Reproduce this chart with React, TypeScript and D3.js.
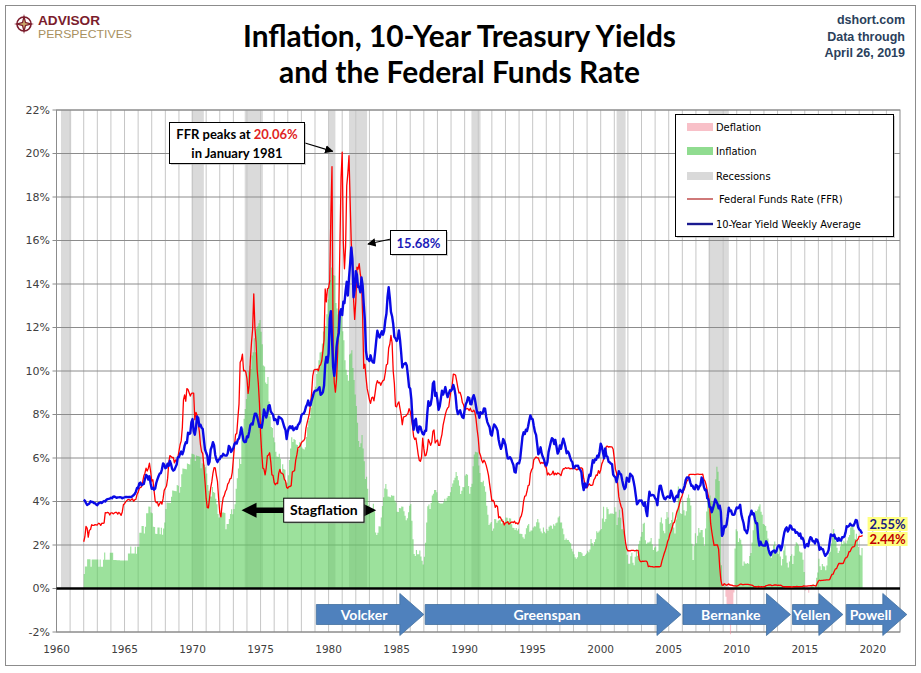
import React from 'react';
import * as d3 from 'd3';

const START_YEAR = 1962;

// Effective Federal Funds Rate, monthly from Jan 1962 (%)
const ffr: number[] = [
  2.15, 2.37, 2.85, 2.78, 2.36, 2.68, 2.71, 2.93, 2.90, 2.90, 2.94, 2.93,
  2.92, 3.00, 2.98, 2.90, 3.00, 2.99, 3.02, 3.49, 3.48, 3.50, 3.48, 3.38,
  3.48, 3.48, 3.43, 3.47, 3.50, 3.50, 3.42, 3.50, 3.45, 3.36, 3.52, 3.85,
  3.90, 3.98, 4.04, 4.09, 4.10, 4.04, 4.09, 4.12, 4.01, 4.08, 4.10, 4.32,
  4.42, 4.60, 4.65, 4.67, 4.90, 5.17, 5.30, 5.53, 5.40, 5.53, 5.76, 5.40,
  4.94, 5.00, 4.53, 4.05, 3.94, 3.98, 3.79, 3.90, 3.99, 3.88, 4.13, 4.51,
  4.61, 4.71, 5.05, 5.76, 6.11, 6.07, 6.02, 6.03, 5.78, 5.91, 5.82, 6.02,
  6.30, 6.61, 6.79, 7.41, 8.67, 8.90, 8.61, 9.19, 9.15, 9.00, 8.85, 8.97,
  8.98, 8.98, 7.76, 8.10, 7.95, 7.61, 7.21, 6.61, 6.29, 6.20, 5.60, 4.90,
  4.14, 3.72, 3.71, 4.16, 4.63, 4.91, 5.31, 5.56, 5.55, 5.20, 4.91, 4.14,
  3.50, 3.29, 3.83, 4.17, 4.27, 4.46, 4.55, 4.80, 4.87, 5.04, 5.06, 5.33,
  5.94, 6.58, 7.09, 7.12, 7.84, 8.49, 10.40, 10.50, 10.78, 10.01, 10.03, 9.95,
  9.65, 8.97, 9.35, 10.51, 11.31, 11.93, 13.55, 12.01, 11.34, 10.06, 9.45, 8.53,
  7.13, 6.24, 5.54, 5.49, 5.22, 5.55, 6.10, 6.14, 6.24, 5.82, 5.22, 5.20,
  4.87, 4.77, 4.84, 4.82, 5.29, 5.48, 5.31, 5.29, 5.25, 5.02, 4.95, 4.65,
  4.61, 4.68, 4.69, 4.73, 5.35, 5.39, 5.42, 5.90, 6.14, 6.47, 6.51, 6.56,
  6.70, 6.78, 6.79, 6.89, 7.36, 7.60, 7.81, 8.04, 8.45, 8.96, 9.76, 10.03,
  10.07, 10.06, 10.09, 10.01, 10.24, 10.29, 10.47, 10.94, 11.43, 13.77, 13.18, 13.78,
  13.82, 14.13, 17.19, 19.40, 10.98, 9.47, 9.03, 9.61, 10.87, 12.81, 15.85, 18.90,
  20.06, 15.93, 14.70, 15.72, 18.52, 19.10, 19.90, 17.82, 15.87, 15.08, 13.31, 12.37,
  13.22, 14.78, 14.68, 14.94, 14.45, 14.15, 12.59, 10.12, 10.31, 9.71, 9.20, 8.95,
  8.68, 8.51, 8.77, 8.80, 8.63, 8.98, 9.37, 9.56, 9.45, 9.48, 9.34, 9.47,
  9.56, 9.59, 9.91, 10.29, 10.32, 11.06, 11.23, 11.64, 11.30, 9.99, 9.43, 8.38,
  8.35, 8.50, 8.58, 8.27, 7.97, 7.53, 7.88, 7.90, 7.92, 7.99, 8.05, 8.27,
  8.14, 7.86, 7.48, 6.99, 6.85, 6.92, 6.56, 6.17, 5.89, 5.85, 6.04, 6.91,
  6.43, 6.10, 6.13, 6.37, 6.85, 6.73, 6.58, 6.73, 7.22, 7.29, 6.69, 6.77,
  6.83, 6.58, 6.58, 6.87, 7.09, 7.51, 7.75, 8.01, 8.19, 8.30, 8.35, 8.76,
  9.12, 9.36, 9.85, 9.84, 9.81, 9.53, 9.24, 8.99, 9.02, 8.84, 8.55, 8.45,
  8.23, 8.24, 8.28, 8.26, 8.18, 8.29, 8.15, 8.13, 8.20, 8.11, 7.81, 7.31,
  6.91, 6.25, 6.12, 5.91, 5.78, 5.90, 5.82, 5.66, 5.45, 5.21, 4.81, 4.43,
  4.03, 4.06, 3.98, 3.73, 3.82, 3.76, 3.25, 3.30, 3.22, 3.10, 3.09, 2.92,
  3.02, 3.03, 3.07, 2.96, 3.00, 3.04, 3.06, 3.03, 3.09, 2.99, 3.02, 2.96,
  3.05, 3.25, 3.34, 3.56, 4.01, 4.25, 4.26, 4.47, 4.73, 4.76, 5.29, 5.45,
  5.53, 5.92, 5.98, 6.05, 6.01, 6.00, 5.85, 5.74, 5.80, 5.76, 5.80, 5.60,
  5.56, 5.22, 5.31, 5.22, 5.24, 5.27, 5.40, 5.22, 5.30, 5.24, 5.31, 5.29,
  5.25, 5.19, 5.39, 5.51, 5.50, 5.56, 5.52, 5.54, 5.54, 5.50, 5.52, 5.50,
  5.56, 5.51, 5.49, 5.45, 5.49, 5.56, 5.54, 5.55, 5.51, 5.07, 4.83, 4.68,
  4.63, 4.76, 4.81, 4.74, 4.74, 4.76, 4.99, 5.07, 5.22, 5.20, 5.42, 5.30,
  5.45, 5.73, 5.85, 6.02, 6.27, 6.53, 6.54, 6.50, 6.52, 6.51, 6.51, 6.40,
  5.98, 5.49, 5.31, 4.80, 4.21, 3.97, 3.77, 3.65, 3.07, 2.49, 2.09, 1.82,
  1.73, 1.74, 1.73, 1.75, 1.75, 1.75, 1.73, 1.74, 1.75, 1.75, 1.34, 1.24,
  1.24, 1.26, 1.25, 1.26, 1.26, 1.22, 1.01, 1.03, 1.01, 1.01, 1.00, 0.98,
  1.00, 1.01, 1.00, 1.00, 1.00, 1.03, 1.26, 1.43, 1.61, 1.76, 1.93, 2.16,
  2.28, 2.50, 2.63, 2.79, 3.00, 3.04, 3.26, 3.50, 3.62, 3.78, 4.00, 4.16,
  4.29, 4.49, 4.59, 4.79, 4.94, 4.99, 5.24, 5.25, 5.25, 5.25, 5.25, 5.24,
  5.25, 5.26, 5.26, 5.25, 5.25, 5.25, 5.26, 5.02, 4.94, 4.76, 4.49, 4.24,
  3.94, 2.98, 2.61, 2.28, 1.98, 2.00, 2.01, 2.00, 1.81, 0.97, 0.39, 0.16,
  0.15, 0.22, 0.18, 0.15, 0.18, 0.21, 0.16, 0.16, 0.15, 0.12, 0.12, 0.12,
  0.11, 0.13, 0.16, 0.20, 0.20, 0.18, 0.18, 0.19, 0.19, 0.19, 0.19, 0.18,
  0.17, 0.16, 0.14, 0.10, 0.09, 0.09, 0.07, 0.10, 0.08, 0.07, 0.08, 0.07,
  0.08, 0.10, 0.13, 0.14, 0.16, 0.16, 0.16, 0.13, 0.14, 0.16, 0.16, 0.16,
  0.14, 0.15, 0.14, 0.15, 0.11, 0.09, 0.09, 0.08, 0.08, 0.09, 0.08, 0.09,
  0.07, 0.07, 0.08, 0.09, 0.09, 0.10, 0.09, 0.09, 0.09, 0.09, 0.09, 0.12,
  0.11, 0.11, 0.11, 0.12, 0.12, 0.13, 0.13, 0.14, 0.14, 0.12, 0.12, 0.24,
  0.34, 0.38, 0.36, 0.37, 0.37, 0.38, 0.39, 0.40, 0.40, 0.40, 0.41, 0.54,
  0.65, 0.66, 0.79, 0.90, 0.91, 1.04, 1.15, 1.16, 1.15, 1.15, 1.16, 1.30,
  1.41, 1.42, 1.51, 1.69, 1.70, 1.82, 1.91, 1.91, 1.95, 2.19, 2.20, 2.27,
  2.40, 2.40, 2.41, 2.44,
];

// 10-Year Treasury yield, monthly from Jan 1962 (%)
const tenYear: number[] = [
  4.08, 4.04, 3.93, 3.84, 3.87, 3.91, 4.01, 3.98, 3.98, 3.93, 3.92, 3.86,
  3.83, 3.92, 3.93, 3.97, 3.93, 3.99, 4.02, 4.00, 4.08, 4.11, 4.12, 4.13,
  4.17, 4.15, 4.22, 4.23, 4.20, 4.17, 4.19, 4.19, 4.20, 4.19, 4.15, 4.18,
  4.19, 4.21, 4.21, 4.20, 4.21, 4.21, 4.20, 4.25, 4.29, 4.35, 4.45, 4.62,
  4.61, 4.83, 4.87, 4.75, 4.78, 4.81, 5.02, 5.22, 5.18, 5.01, 5.16, 4.84,
  4.58, 4.63, 4.54, 4.59, 4.85, 5.02, 5.16, 5.28, 5.30, 5.48, 5.75, 5.70,
  5.53, 5.56, 5.74, 5.64, 5.87, 5.72, 5.50, 5.42, 5.46, 5.58, 5.70, 6.03,
  6.04, 6.19, 6.30, 6.17, 6.32, 6.57, 6.72, 6.69, 7.16, 7.10, 7.14, 7.65,
  7.79, 7.24, 7.07, 7.39, 7.91, 7.84, 7.46, 7.53, 7.39, 7.33, 6.84, 6.39,
  6.24, 6.11, 5.70, 5.83, 6.39, 6.52, 6.73, 6.58, 6.14, 5.93, 5.81, 5.93,
  5.95, 6.08, 6.07, 6.19, 6.13, 6.11, 6.11, 6.21, 6.55, 6.48, 6.28, 6.36,
  6.46, 6.64, 6.71, 6.67, 6.85, 6.90, 7.13, 7.40, 7.09, 6.79, 6.73, 6.74,
  6.99, 6.96, 7.21, 7.51, 7.58, 7.54, 7.81, 8.04, 8.04, 7.90, 7.68, 7.43,
  7.50, 7.39, 7.73, 8.23, 8.06, 7.86, 8.06, 8.40, 8.43, 8.14, 8.05, 8.00,
  7.74, 7.79, 7.73, 7.56, 7.90, 7.86, 7.83, 7.77, 7.59, 7.41, 7.29, 6.87,
  7.21, 7.39, 7.46, 7.37, 7.46, 7.28, 7.33, 7.40, 7.34, 7.52, 7.58, 7.69,
  7.96, 8.03, 8.04, 8.15, 8.35, 8.46, 8.64, 8.41, 8.42, 8.64, 8.81, 9.01,
  9.10, 9.10, 9.12, 9.18, 9.25, 8.91, 8.95, 9.03, 9.33, 10.30, 10.65, 10.39,
  10.80, 12.41, 12.75, 11.47, 10.18, 9.78, 10.25, 11.10, 11.51, 11.75, 12.68, 12.84,
  12.57, 13.19, 13.12, 13.68, 14.10, 13.47, 14.28, 14.94, 15.68, 15.15, 13.39, 13.72,
  14.59, 14.43, 13.86, 13.87, 13.62, 14.30, 13.95, 13.06, 12.34, 10.91, 10.55, 10.54,
  10.46, 10.72, 10.51, 10.40, 10.38, 10.85, 11.38, 11.85, 11.65, 11.54, 11.69, 11.83,
  11.67, 11.84, 12.32, 12.63, 13.41, 13.85, 13.36, 12.72, 12.52, 12.16, 11.57, 11.50,
  11.38, 11.51, 11.86, 11.43, 10.85, 10.16, 10.31, 10.33, 10.37, 10.24, 9.78, 9.26,
  9.19, 8.70, 7.78, 7.30, 7.71, 7.80, 7.30, 7.17, 7.45, 7.43, 7.25, 7.11,
  7.08, 7.25, 7.25, 8.02, 8.61, 8.40, 8.45, 8.76, 9.42, 9.52, 8.86, 8.99,
  8.67, 8.21, 8.37, 8.72, 9.09, 8.92, 9.06, 9.26, 8.98, 8.80, 8.96, 9.11,
  9.09, 9.17, 9.36, 9.18, 8.86, 8.28, 8.02, 8.11, 8.19, 8.01, 7.87, 7.84,
  8.21, 8.47, 8.59, 8.79, 8.76, 8.48, 8.47, 8.75, 8.89, 8.72, 8.39, 8.08,
  8.09, 7.85, 8.11, 8.04, 8.07, 8.28, 8.27, 7.90, 7.65, 7.53, 7.42, 7.09,
  7.03, 7.34, 7.54, 7.48, 7.39, 7.26, 6.84, 6.59, 6.42, 6.59, 6.87, 6.77,
  6.60, 6.26, 5.98, 5.97, 6.04, 5.96, 5.81, 5.68, 5.36, 5.33, 5.72, 5.77,
  5.75, 5.97, 6.48, 6.97, 7.18, 7.10, 7.30, 7.24, 7.46, 7.74, 7.96, 7.81,
  7.78, 7.47, 7.20, 7.06, 6.63, 6.17, 6.28, 6.49, 6.20, 6.04, 5.93, 5.71,
  5.65, 5.81, 6.27, 6.51, 6.74, 6.91, 6.87, 6.64, 6.83, 6.53, 6.20, 6.30,
  6.58, 6.42, 6.69, 6.89, 6.71, 6.49, 6.22, 6.30, 6.21, 6.03, 5.88, 5.81,
  5.54, 5.57, 5.65, 5.64, 5.65, 5.50, 5.46, 5.34, 4.81, 4.53, 4.83, 4.65,
  4.72, 5.00, 5.23, 5.18, 5.54, 5.90, 5.79, 5.94, 5.92, 6.11, 6.03, 6.28,
  6.66, 6.52, 6.26, 5.99, 6.44, 6.10, 6.05, 5.83, 5.80, 5.74, 5.72, 5.24,
  5.16, 5.10, 4.89, 5.14, 5.39, 5.28, 5.24, 4.97, 4.73, 4.57, 4.65, 5.09,
  5.04, 4.91, 5.28, 5.21, 5.16, 4.93, 4.65, 4.26, 3.87, 3.94, 4.05, 4.03,
  4.05, 3.90, 3.81, 3.96, 3.57, 3.33, 3.98, 4.45, 4.27, 4.29, 4.30, 4.27,
  4.15, 4.08, 3.83, 4.35, 4.72, 4.73, 4.50, 4.28, 4.13, 4.10, 4.19, 4.23,
  4.22, 4.17, 4.50, 4.34, 4.14, 4.00, 4.18, 4.26, 4.20, 4.46, 4.54, 4.47,
  4.42, 4.57, 4.72, 4.99, 5.11, 5.11, 5.09, 4.88, 4.72, 4.73, 4.60, 4.56,
  4.76, 4.72, 4.56, 4.69, 4.75, 5.10, 5.00, 4.67, 4.52, 4.53, 4.15, 4.10,
  3.74, 3.74, 3.51, 3.68, 3.88, 4.10, 4.01, 3.89, 3.69, 3.81, 3.53, 2.42,
  2.52, 2.87, 2.82, 2.93, 3.29, 3.72, 3.56, 3.59, 3.40, 3.39, 3.40, 3.59,
  3.73, 3.69, 3.73, 3.85, 3.42, 3.20, 3.01, 2.70, 2.65, 2.54, 2.76, 3.29,
  3.39, 3.58, 3.41, 3.46, 3.17, 3.00, 3.00, 2.30, 1.98, 2.15, 2.01, 1.98,
  1.97, 1.97, 2.17, 2.05, 1.80, 1.62, 1.53, 1.68, 1.72, 1.75, 1.65, 1.72,
  1.91, 1.98, 1.96, 1.76, 1.93, 2.30, 2.58, 2.74, 2.81, 2.62, 2.72, 2.90,
  2.86, 2.71, 2.72, 2.71, 2.56, 2.60, 2.54, 2.42, 2.53, 2.30, 2.33, 2.21,
  1.88, 1.98, 2.04, 1.94, 2.20, 2.36, 2.32, 2.17, 2.17, 2.07, 2.26, 2.24,
  2.09, 1.78, 1.89, 1.81, 1.81, 1.64, 1.50, 1.56, 1.63, 1.76, 2.14, 2.49,
  2.43, 2.42, 2.48, 2.30, 2.30, 2.19, 2.32, 2.21, 2.20, 2.36, 2.35, 2.40,
  2.58, 2.86, 2.84, 2.87, 2.98, 2.91, 2.89, 2.89, 3.00, 3.15, 3.12, 2.83,
  2.71, 2.68, 2.57, 2.55,
];

// CPI year-over-year inflation, monthly from Jan 1962 (%)
const cpiYoY: number[] = [
  0.67, 1.01, 1.01, 1.34, 1.34, 1.34, 1.00, 1.33, 1.33, 1.33, 1.33, 1.33,
  1.33, 1.00, 1.33, 1.00, 1.00, 1.32, 1.65, 1.32, 1.32, 1.32, 1.32, 1.64,
  1.64, 1.64, 1.31, 1.31, 1.31, 1.30, 1.30, 1.30, 1.29, 1.29, 1.29, 1.29,
  1.29, 1.29, 1.29, 1.61, 1.61, 1.93, 1.61, 1.61, 1.61, 1.92, 1.60, 1.92,
  1.92, 2.56, 2.56, 2.87, 2.87, 2.53, 2.84, 3.46, 3.46, 3.77, 3.76, 3.49,
  3.46, 2.84, 2.83, 2.52, 2.51, 2.81, 2.80, 2.49, 2.79, 2.47, 2.76, 3.04,
  3.65, 3.95, 3.94, 3.94, 3.93, 4.22, 4.51, 4.49, 4.48, 4.47, 4.76, 4.72,
  4.40, 4.67, 5.25, 5.52, 5.51, 5.49, 5.48, 5.75, 5.72, 5.70, 5.96, 6.20,
  6.18, 6.15, 5.86, 6.12, 6.09, 6.08, 6.06, 5.53, 5.76, 5.73, 5.69, 5.57,
  5.29, 4.76, 4.49, 4.23, 4.23, 4.67, 4.44, 4.40, 4.13, 3.87, 3.42, 3.27,
  3.28, 3.52, 3.49, 3.49, 3.47, 2.72, 2.97, 2.96, 3.19, 3.42, 3.64, 3.41,
  3.65, 3.87, 4.59, 5.07, 5.52, 5.96, 5.72, 7.38, 7.36, 7.80, 8.25, 8.71,
  9.39, 9.99, 10.24, 10.09, 10.71, 10.86, 11.51, 10.86, 11.95, 12.06, 12.20, 12.34,
  11.80, 11.23, 10.25, 10.21, 9.47, 9.40, 9.72, 8.60, 7.91, 7.43, 7.38, 6.94,
  6.72, 6.29, 6.07, 6.05, 6.20, 5.97, 5.35, 5.71, 5.49, 5.46, 4.88, 4.86,
  5.21, 5.91, 6.44, 6.95, 6.73, 6.87, 6.83, 6.62, 6.60, 6.39, 6.72, 6.70,
  6.48, 6.43, 6.39, 6.50, 6.96, 7.41, 7.71, 7.84, 8.31, 8.93, 8.89, 9.02,
  9.28, 9.86, 10.09, 10.49, 10.85, 10.89, 11.26, 11.82, 12.18, 12.07, 12.61, 13.29,
  13.91, 14.18, 14.76, 14.73, 14.41, 14.38, 13.13, 12.87, 12.60, 12.77, 12.65, 12.52,
  11.83, 11.41, 10.49, 10.06, 9.82, 9.55, 10.76, 10.80, 10.95, 10.14, 9.59, 8.92,
  8.39, 7.62, 6.78, 6.51, 6.68, 7.06, 6.44, 5.85, 5.04, 5.14, 4.59, 3.83,
  3.71, 3.49, 3.60, 3.90, 3.55, 2.58, 2.46, 2.56, 2.86, 2.85, 3.27, 3.79,
  4.19, 4.60, 4.80, 4.56, 4.23, 4.22, 4.20, 4.29, 4.27, 4.26, 4.05, 3.95,
  3.53, 3.52, 3.70, 3.69, 3.77, 3.76, 3.55, 3.35, 3.14, 3.23, 3.51, 3.80,
  3.89, 3.11, 2.26, 1.59, 1.49, 1.77, 1.58, 1.57, 1.75, 1.47, 1.28, 1.10,
  1.46, 2.10, 3.03, 3.78, 3.86, 3.65, 3.93, 4.28, 4.36, 4.53, 4.53, 4.43,
  4.03, 3.93, 3.91, 3.91, 3.91, 3.96, 4.13, 4.02, 4.17, 4.25, 4.25, 4.42,
  4.67, 4.83, 4.98, 5.09, 5.36, 5.17, 4.98, 4.72, 4.35, 4.49, 4.67, 4.65,
  5.20, 5.26, 5.23, 4.71, 4.36, 4.67, 4.82, 5.62, 6.16, 6.29, 6.27, 6.25,
  5.65, 5.31, 4.90, 4.89, 4.95, 4.70, 4.45, 3.80, 3.39, 2.92, 2.99, 3.06,
  2.65, 2.76, 3.19, 3.18, 3.02, 3.11, 3.16, 3.15, 2.99, 3.19, 3.05, 2.90,
  3.26, 3.25, 3.09, 3.23, 3.22, 2.95, 2.79, 2.78, 2.69, 2.78, 2.67, 2.75,
  2.52, 2.52, 2.51, 2.36, 2.29, 2.49, 2.77, 2.90, 2.96, 2.61, 2.67, 2.67,
  2.80, 2.86, 2.85, 3.05, 3.19, 3.04, 2.76, 2.62, 2.54, 2.81, 2.61, 2.54,
  2.73, 2.65, 2.84, 2.90, 2.89, 2.75, 2.95, 2.88, 3.00, 3.04, 3.26, 3.32,
  3.04, 3.03, 2.76, 2.50, 2.23, 2.30, 2.23, 2.23, 2.15, 2.08, 1.83, 1.70,
  1.57, 1.44, 1.37, 1.44, 1.69, 1.68, 1.68, 1.62, 1.49, 1.49, 1.55, 1.61,
  1.73, 1.67, 1.79, 2.28, 2.09, 1.96, 2.14, 2.26, 2.63, 2.56, 2.62, 2.68,
  2.74, 3.22, 3.76, 3.07, 3.19, 3.73, 3.66, 3.41, 3.45, 3.45, 3.45, 3.43,
  3.73, 3.53, 2.92, 3.27, 3.62, 3.25, 2.72, 2.72, 2.65, 2.13, 1.90, 1.55,
  1.14, 1.14, 1.48, 1.64, 1.18, 1.07, 1.46, 1.80, 1.51, 2.03, 2.20, 2.38,
  2.60, 2.98, 3.02, 2.22, 2.06, 2.11, 2.11, 2.16, 2.32, 2.04, 1.77, 1.88,
  1.93, 1.69, 1.74, 2.29, 3.05, 3.27, 2.99, 2.65, 2.54, 3.19, 3.52, 3.26,
  2.97, 3.01, 3.15, 3.51, 2.80, 2.53, 3.17, 3.64, 4.69, 4.35, 3.46, 3.42,
  3.99, 3.60, 3.36, 3.55, 4.17, 4.32, 4.15, 3.82, 2.06, 1.31, 1.97, 2.54,
  2.08, 2.42, 2.78, 2.57, 2.69, 2.69, 2.36, 1.97, 2.76, 3.54, 4.31, 4.08,
  4.28, 4.03, 3.98, 3.94, 4.18, 5.02, 5.60, 5.37, 4.94, 3.66, 1.07, 0.09,
  0.03, 0.24, -0.38, -0.74, -1.28, -1.43, -2.10, -1.48, -1.38, -0.18, 1.84, 2.72,
  2.63, 2.14, 2.31, 2.24, 2.02, 1.05, 1.24, 1.15, 1.14, 1.17, 1.14, 1.50,
  1.63, 2.11, 2.68, 3.16, 3.57, 3.56, 3.63, 3.77, 3.87, 3.53, 3.39, 2.96,
  2.93, 2.87, 2.65, 2.30, 1.70, 1.66, 1.41, 1.69, 1.99, 2.16, 1.76, 1.74,
  1.59, 1.98, 1.47, 1.06, 1.36, 1.75, 1.96, 1.52, 1.18, 0.96, 1.24, 1.50,
  1.58, 1.13, 1.51, 1.95, 2.13, 2.07, 1.99, 1.70, 1.66, 1.66, 1.32, 0.76,
  -0.09, -0.03, -0.07, -0.20, -0.04, 0.12, 0.17, 0.20, -0.04, 0.17, 0.50, 0.73,
  1.37, 1.02, 0.85, 1.13, 1.02, 1.01, 0.84, 1.06, 1.46, 1.64, 1.69, 2.07,
  2.50, 2.74, 2.38, 2.20, 1.87, 1.63, 1.73, 1.94, 2.22, 2.04, 2.20, 2.11,
  2.07, 2.21, 2.36, 2.46, 2.80, 2.87, 2.95, 2.70, 2.28, 2.52, 2.18, 1.91,
  1.55, 1.52, 1.86,
];

// NBER recessions (decimal years)
const recessionStart = [1960.33, 1969.92, 1973.83, 1980.0, 1981.5, 1990.5, 2001.17, 2007.92];
const recessionEnd = [1961.08, 1970.83, 1975.17, 1980.5, 1982.83, 1991.17, 2001.83, 2009.42];

// Fed chairs (arrow spans, decimal years)
const chairNames = ['Volcker', 'Greenspan', 'Bernanke', 'Yellen', 'Powell'];
const chairStart = [1979.1, 1987.1, 2006.05, 2014.1, 2018.05];
const chairEnd = [1987.0, 2005.9, 2013.95, 2017.8, 2022.5];

const yTicks = [-2, 0, 2, 4, 6, 8, 10, 12, 14, 16, 18, 20, 22];
const xLabelYears = [1960, 1965, 1970, 1975, 1980, 1985, 1990, 1995, 2000, 2005, 2010, 2015, 2020];

const lastTenYearLabel = '2.55%';
const lastFfrLabel = '2.44%';

type Pt = { t: number; v: number };

export default function App() {
  const W = 921;
  const H = 673;
  const left = 56.5, right = 900, top = 110, bottom = 632;
  const x = d3.scaleLinear().domain([1960, 2022]).range([left, right]);
  const y = d3.scaleLinear().domain([-2, 22]).range([bottom, top]);

  const toPts = (arr: number[]): Pt[] => arr.map((v, i) => ({ t: START_YEAR + i / 12, v }));
  const ffrPts = toPts(ffr);
  const tyPts = toPts(tenYear);
  const cpiPts = toPts(cpiYoY);
  const cpiStep = [...cpiPts, { t: START_YEAR + cpiYoY.length / 12, v: cpiYoY[cpiYoY.length - 1] }];

  const line = d3.line<Pt>().x(d => x(d.t)).y(d => y(d.v));
  const infArea = d3.area<Pt>().curve(d3.curveStepAfter).x(d => x(d.t)).y0(y(0)).y1(d => y(Math.max(0, d.v)));
  const defArea = d3.area<Pt>().curve(d3.curveStepAfter).x(d => x(d.t)).y0(y(0)).y1(d => y(Math.min(0, d.v)));

  const gridYears = d3.range(1961, 2022);

  const calibri = 'Lato, "Open Sans", sans-serif';
  const tahoma = '"DejaVu Sans", Verdana, sans-serif';

  const arrowPoly = (xs: number, xe: number) => {
    const cy = 614.5, bh = 10, hh = 21, hl = 24;
    const hx = xe - hl;
    return `${xs},${cy - bh} ${hx},${cy - bh} ${hx},${cy - hh} ${xe},${cy} ${hx},${cy + hh} ${hx},${cy + bh} ${xs},${cy + bh}`;
  };

  // Stagflation double arrow geometry (data coordinates)
  const sgY = y(3.6);
  const sgLeftTip = x(1973.6);
  const sgRightTip = x(1983.5);
  const sgBoxL = x(1976.7);
  const sgBoxR = x(1982.6);

  const lastT = tyPts[tyPts.length - 1];
  const lastF = ffrPts[ffrPts.length - 1];

  return (
    <svg width={W} height={H} style={{ position: 'absolute', left: 0, top: 0, background: '#fff' }}>
      <defs>
        <marker id="ah" viewBox="0 0 10 10" refX="9" refY="5" markerWidth="7" markerHeight="7" orient="auto-start-reverse">
          <path d="M0,0 L10,5 L0,10 z" fill="#000" />
        </marker>
      </defs>
      <rect x={0} y={0} width={W} height={H} fill="#fff" />
      <rect x={5.5} y={5.5} width={910} height={660} fill="none" stroke="#8c8c8c" strokeWidth={1} />

      {/* Logo */}
      <g>
        <circle cx={24} cy={24} r={7} fill="none" stroke="#7b1c2c" strokeWidth={1.6} />
        <polygon points="24,14 26,22 34,24 26,26 24,34 22,26 14,24 22,22" fill="#7b1c2c" />
        <polygon points="24,19 25,23 29,24 25,25 24,29 23,25 19,24 23,23" fill="#c8a86a" />
        <text x={38} y={25} fontFamily='"Liberation Sans", Arial, sans-serif' fontWeight="bold" fontSize={12} fill="#7b1c2c" textLength={62} lengthAdjust="spacingAndGlyphs">ADVISOR</text>
        <text x={38} y={38} fontFamily='"Liberation Sans", Arial, sans-serif' fontSize={11.5} fill="#a8905e" textLength={94} lengthAdjust="spacingAndGlyphs">PERSPECTIVES</text>
      </g>

      {/* Title */}
      <text x={459.5} y={47} textAnchor="middle" fontFamily={calibri} fontWeight="bold" fontSize={30} fill="#000" textLength={433} lengthAdjust="spacingAndGlyphs">Inflation, 10-Year Treasury Yields</text>
      <text x={459.5} y={83} textAnchor="middle" fontFamily={calibri} fontWeight="bold" fontSize={30} fill="#000" textLength={361} lengthAdjust="spacingAndGlyphs">and the Federal Funds Rate</text>

      {/* Top-right */}
      <g fontFamily='"Liberation Sans", Arial, sans-serif' fontWeight="bold" fontSize={12.5} fill="#2b3f5c" textAnchor="end">
        <text x={905} y={24}>dshort.com</text>
        <text x={905} y={40.5}>Data through</text>
        <text x={905} y={56.5}>April 26, 2019</text>
      </g>

      {/* Recession bands */}
      {recessionStart.map((s, i) => (
        <rect key={'r' + i} x={x(s)} y={y(22)} width={x(recessionEnd[i]) - x(s)} height={y(0) - y(22)} fill="#999" fillOpacity={0.36} />
      ))}

      {/* Grid */}
      {gridYears.map(g => (
        <line key={'v' + g} x1={x(g)} x2={x(g)} y1={top} y2={bottom} stroke="#c6c6c6" strokeWidth={1} />
      ))}
      {yTicks.map(t => (
        <line key={'h' + t} x1={left - 4} x2={right} y1={y(t)} y2={y(t)} stroke="#8c8c8c" strokeWidth={1} />
      ))}
      <rect x={left} y={top} width={right - left} height={bottom - top} fill="none" stroke="#8c8c8c" strokeWidth={1} />

      {/* Inflation / deflation */}
      <path d={infArea(cpiStep) || ''} fill="#5fcf5f" fillOpacity={0.62} />
      <path d={defArea(cpiStep) || ''} fill="#f08a9a" fillOpacity={0.55} />

      {/* zero line */}
      <line x1={left} x2={right} y1={y(0)} y2={y(0)} stroke="#000" strokeWidth={2.6} />

      {/* Lines */}
      <path d={line(ffrPts) || ''} fill="none" stroke="#ff0000" strokeWidth={1.3} strokeLinejoin="round" />
      <path d={line(tyPts) || ''} fill="none" stroke="#0a0ae6" strokeWidth={2.4} strokeLinejoin="round" />

      {/* Y axis labels */}
      {yTicks.map(t => (
        <text key={'yl' + t} x={50} y={y(t)} dy="0.35em" textAnchor="end" fontFamily={tahoma} fontSize={11} fill="#404040">{t}%</text>
      ))}
      {/* X axis labels */}
      {xLabelYears.map(yr => (
        <text key={'xl' + yr} x={x(yr)} y={653} textAnchor="middle" fontFamily={tahoma} fontSize={10.5} fill="#404040">{yr}</text>
      ))}

      {/* Fed chair arrows */}
      {chairNames.map((n, i) => {
        const xs = x(chairStart[i]);
        const xe = x(chairEnd[i]);
        return (
          <g key={n}>
            <polygon points={arrowPoly(xs, xe)} fill="#4f81bd" stroke="#41709f" strokeWidth={0.8} />
            <text x={(xs + xe - 12) / 2} y={619.5} textAnchor="middle" fontFamily={calibri} fontWeight="bold" fontSize={14} fill="#fff">{n}</text>
          </g>
        );
      })}

      {/* Legend */}
      <g>
        <rect x={677} y={116} width={218} height={122} fill="#a0a0a0" fillOpacity={0.5} />
        <rect x={675.5} y={114.5} width={218} height={122} fill="#fff" stroke="#000" strokeWidth={1} />
        <rect x={687} y={123} width={26} height={8} fill="#f8c0c8" />
        <rect x={687} y={147} width={26} height={8} fill="#90dc90" />
        <rect x={687} y={172} width={26} height={8} fill="#d9d9d9" />
        <line x1={687} x2={713} y1={199} y2={199} stroke="#b02020" strokeWidth={1.2} />
        <line x1={687} x2={713} y1={224} y2={224} stroke="#1a1a90" strokeWidth={2.4} />
        <g fontFamily={'"DejaVu Sans Condensed", "DejaVu Sans", sans-serif'} fontSize={11} fill="#000">
          <text x={716} y={131}>Deflation</text>
          <text x={716} y={155}>Inflation</text>
          <text x={716} y={180}>Recessions</text>
          <text x={719} y={203}>Federal Funds Rate (FFR)</text>
          <text x={716} y={228}>10-Year Yield Weekly Average</text>
        </g>
      </g>

      {/* FFR peak annotation */}
      <g>
        <line x1={305} y1={143} x2={x(1980.3)} y2={y(20.1)} stroke="#000" strokeWidth={1.2} markerEnd="url(#ah)" />
        <rect x={171} y={124} width={135} height={41} fill="#a0a0a0" fillOpacity={0.5} />
        <rect x={169.5} y={122.5} width={135} height={41} fill="#fff" stroke="#000" strokeWidth={1} />
        <text x={237} y={139} textAnchor="middle" fontFamily={calibri} fontWeight="bold" fontSize={13} fill="#000">
          FFR peaks at <tspan fill="#e02424">20.06%</tspan>
        </text>
        <text x={237} y={157.5} textAnchor="middle" fontFamily={calibri} fontWeight="bold" fontSize={13} fill="#000">in January 1981</text>
      </g>

      {/* 15.68% annotation */}
      <g>
        <line x1={391} y1={239} x2={368} y2={244} stroke="#000" strokeWidth={1.2} markerEnd="url(#ah)" />
        <rect x={392} y={232} width={56} height={24} fill="#a0a0a0" fillOpacity={0.5} />
        <rect x={390.5} y={230.5} width={56} height={24} fill="#fff" stroke="#000" strokeWidth={1} />
        <text x={418.5} y={247.5} textAnchor="middle" fontFamily={calibri} fontWeight="bold" fontSize={13} fill="#1c1cb8">15.68%</text>
      </g>

      {/* Stagflation */}
      <g>
        <polygon points={`${sgLeftTip},${sgY} ${sgLeftTip + 15},${sgY - 7.5} ${sgLeftTip + 15},${sgY - 2.8} ${sgBoxL},${sgY - 2.8} ${sgBoxL},${sgY + 2.8} ${sgLeftTip + 15},${sgY + 2.8} ${sgLeftTip + 15},${sgY + 7.5}`} fill="#000" />
        <polygon points={`${sgRightTip},${sgY} ${sgRightTip - 15},${sgY - 7.5} ${sgRightTip - 15},${sgY - 2.8} ${sgBoxR},${sgY - 2.8} ${sgBoxR},${sgY + 2.8} ${sgRightTip - 15},${sgY + 2.8} ${sgRightTip - 15},${sgY + 7.5}`} fill="#000" />
        <rect x={sgBoxL + 1.5} y={sgY - 10.5} width={sgBoxR - sgBoxL} height={24} fill="#a0a0a0" fillOpacity={0.5} />
        <rect x={sgBoxL} y={sgY - 12} width={sgBoxR - sgBoxL} height={24} fill="#fff" stroke="#000" strokeWidth={1} />
        <text x={(sgBoxL + sgBoxR) / 2} y={sgY + 4.5} textAnchor="middle" fontFamily={calibri} fontWeight="bold" fontSize={14} fill="#000">Stagflation</text>
      </g>

      {/* End labels */}
      <g>
        <rect x={x(lastT.t) + 5} y={517} width={40} height={14} fill="#ffff80" />
        <rect x={x(lastF.t) + 5} y={532} width={40} height={14} fill="#ffff80" />
        <text x={x(lastT.t) + 25} y={528.5} textAnchor="middle" fontFamily={calibri} fontWeight="bold" fontSize={13} fill="#1a1a80">{lastTenYearLabel}</text>
        <text x={x(lastF.t) + 25} y={543.5} textAnchor="middle" fontFamily={calibri} fontWeight="bold" fontSize={13} fill="#c00000">{lastFfrLabel}</text>
      </g>
    </svg>
  );
}
